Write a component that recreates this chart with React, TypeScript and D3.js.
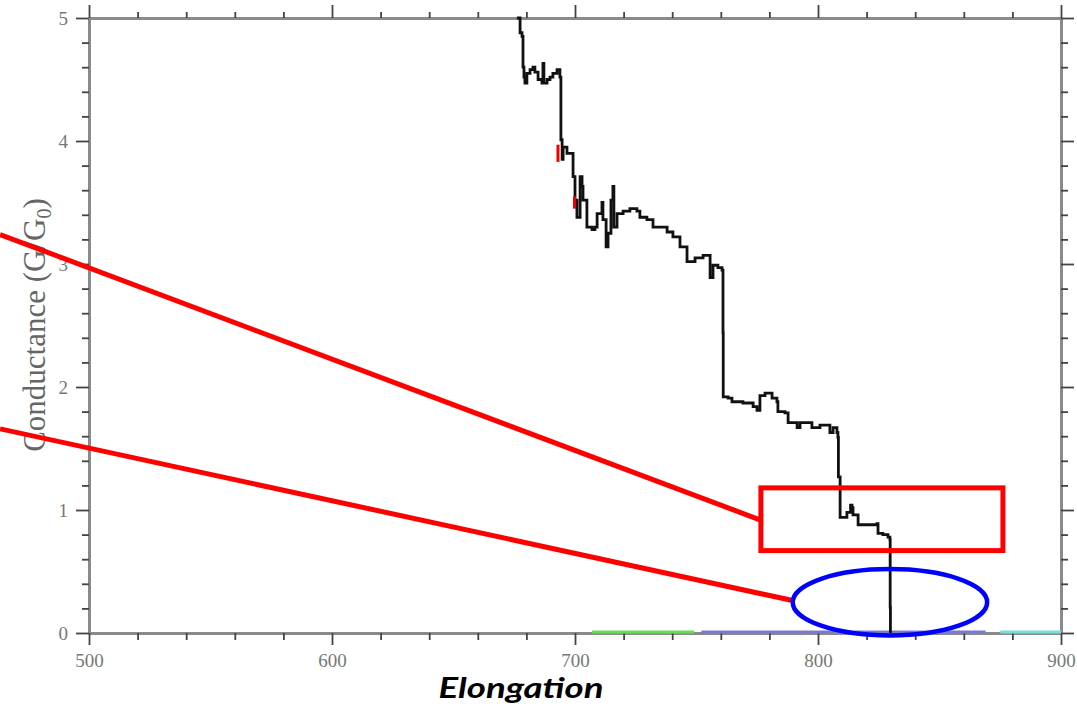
import React, { useEffect, useRef } from "react";
import * as d3 from "d3";

// conductance trace: [elongation, G/G0]
const trace: [number, number][] = [
  [676.1, 5.0], [677.4, 4.88], [678.2, 4.85], [678.6, 4.6], [679.0, 4.52],
  [679.4, 4.47], [680.2, 4.55], [681.5, 4.58], [682.7, 4.6], [683.5, 4.56],
  [684.8, 4.5], [686.4, 4.47], [686.8, 4.63], [687.2, 4.47], [688.5, 4.5],
  [689.7, 4.52], [690.9, 4.55], [692.6, 4.58], [693.8, 4.52], [694.2, 4.01],
  [694.7, 3.85], [695.1, 3.95], [696.7, 3.9], [698.8, 3.9], [699.2, 3.71],
  [700.0, 3.52], [700.8, 3.38], [702.1, 3.71], [702.9, 3.63], [703.3, 3.52],
  [704.9, 3.3], [707.0, 3.28], [708.2, 3.3], [709.1, 3.41], [711.1, 3.5],
  [711.5, 3.36], [712.8, 3.14], [713.6, 3.25], [714.8, 3.52], [715.6, 3.63],
  [716.0, 3.3], [717.3, 3.41], [719.8, 3.43], [722.6, 3.45], [725.5, 3.43],
  [726.7, 3.38], [729.6, 3.36], [732.1, 3.3], [735.0, 3.3], [737.9, 3.26],
  [740.3, 3.22], [743.2, 3.14], [746.1, 3.02], [749.4, 3.05], [752.7, 3.07],
  [755.6, 2.89], [756.8, 2.99], [758.8, 2.97], [760.5, 2.95], [760.9, 2.44],
  [761.0, 1.92], [763.0, 1.91], [764.6, 1.88], [769.1, 1.87], [773.3, 1.84],
  [774.9, 1.81], [776.1, 1.93], [778.2, 1.95], [781.1, 1.91], [783.1, 1.88],
  [783.5, 1.8], [786.4, 1.79], [787.7, 1.71], [791.4, 1.67], [792.6, 1.71],
  [797.5, 1.67], [800.8, 1.69], [804.1, 1.69], [804.9, 1.63], [806.2, 1.67],
  [807.8, 1.63], [808.2, 1.59], [808.4, 1.27], [809.1, 0.94], [811.9, 0.98],
  [813.4, 1.04], [814.0, 1.02], [814.4, 0.96], [816.5, 0.88], [820.2, 0.88],
  [824.3, 0.89], [824.7, 0.81], [826.7, 0.8], [828.8, 0.78], [829.6, 0.76],
  [829.7, 0.21], [829.8, 0.16], [829.8, 0.0],
];

// small red bits on the trace: [elongation, G from, G to]
const redBits: [number, number, number][] = [
  [693.0, 3.97, 3.83],
  [699.8, 3.55, 3.45],
];

// faint coloured runs lying on G = 0: [from, to, colour]
const baseRuns: [number, number, string][] = [
  [707, 749, "#66dd55"],
  [752, 869, "#7a7acc"],
  [875, 900, "#77dddd"],
];

const xTicks = [500, 600, 700, 800, 900];
const yTicks = [0, 1, 2, 3, 4, 5];

// annotations (data units)
const redLines: [number, number, number, number][] = [
  [463.4, 3.24, 776.1, 0.92],
  [463.4, 1.66, 790.5, 0.26],
];
const redBox = { x0: 776.5, x1: 876.1, y0: 1.18, y1: 0.67 };
const blueEllipse = { cx: 829.6, cy: 0.25, rx: 40, ry: 0.27 };

const W = 1077;
const H = 706;

export default function App() {
  const ref = useRef<SVGSVGElement>(null);

  useEffect(() => {
    const svg = d3.select(ref.current);
    svg.selectAll("*").remove();

    const x = d3.scaleLinear().domain([500, 900]).range([89, 1061]);
    const y = d3.scaleLinear().domain([0, 5]).range([633, 18]);

    const minorX = d3.range(500, 901, 20).filter((v) => v % 100 !== 0);
    const minorY = d3.range(0, 5.01, 0.2).map((v) => +v.toFixed(1)).filter((v) => v % 1 !== 0);

    const styleAxis = (g: any) => {
      g.select(".domain").attr("stroke", "#8a8a8a").attr("stroke-width", 3);
      g.selectAll(".tick line").attr("stroke", "#444").attr("stroke-width", 1.8);
      g.selectAll(".tick text")
        .attr("fill", "#777")
        .style("font-family", "'Liberation Serif', serif")
        .style("font-size", "19px");
    };

    // minor ticks first
    svg.append("g").attr("transform", `translate(0,${y(0)})`)
      .call(d3.axisBottom(x).tickValues(minorX).tickSize(7).tickSizeOuter(0).tickFormat(() => ""))
      .call(styleAxis);
    svg.append("g").attr("transform", `translate(0,${y(5)})`)
      .call(d3.axisTop(x).tickValues(minorX).tickSize(6).tickSizeOuter(0).tickFormat(() => ""))
      .call(styleAxis);
    svg.append("g").attr("transform", `translate(${x(500)},0)`)
      .call(d3.axisLeft(y).tickValues(minorY).tickSize(7).tickSizeOuter(0).tickFormat(() => ""))
      .call(styleAxis);
    svg.append("g").attr("transform", `translate(${x(900)},0)`)
      .call(d3.axisRight(y).tickValues(minorY).tickSize(7).tickSizeOuter(0).tickFormat(() => ""))
      .call(styleAxis);

    // major ticks
    const bottom = svg.append("g").attr("transform", `translate(0,${y(0)})`)
      .call(d3.axisBottom(x).tickValues(xTicks).tickSize(12).tickSizeOuter(0).tickPadding(9).tickFormat(d3.format("d")))
      .call(styleAxis);
    bottom.select(".domain").remove();
    const top = svg.append("g").attr("transform", `translate(0,${y(5)})`)
      .call(d3.axisTop(x).tickValues(xTicks).tickSize(13).tickSizeOuter(0).tickFormat(() => ""))
      .call(styleAxis);
    top.select(".domain").remove();
    const left = svg.append("g").attr("transform", `translate(${x(500)},0)`)
      .call(d3.axisLeft(y).tickValues(yTicks).tickSize(13).tickSizeOuter(0).tickPadding(8).tickFormat(d3.format("d")))
      .call(styleAxis);
    left.select(".domain").remove();
    const right = svg.append("g").attr("transform", `translate(${x(900)},0)`)
      .call(d3.axisRight(y).tickValues(yTicks).tickSize(13).tickSizeOuter(0).tickFormat(() => ""))
      .call(styleAxis);
    right.select(".domain").remove();

    // baseline runs
    svg.append("g").selectAll("line").data(baseRuns).enter().append("line")
      .attr("x1", (d) => x(d[0])).attr("x2", (d) => x(d[1]))
      .attr("y1", y(0) - 1).attr("y2", y(0) - 1)
      .attr("stroke", (d) => d[2]).attr("stroke-width", 3);

    // trace
    const line = d3.line<[number, number]>()
      .x((d) => x(d[0]))
      .y((d) => y(d[1]))
      .curve(d3.curveStepAfter);
    svg.append("path").datum(trace)
      .attr("d", line)
      .attr("fill", "none")
      .attr("stroke", "#111")
      .attr("stroke-width", 2.8);

    svg.append("g").selectAll("line").data(redBits).enter().append("line")
      .attr("x1", (d) => x(d[0])).attr("x2", (d) => x(d[0]))
      .attr("y1", (d) => y(d[1])).attr("y2", (d) => y(d[2]))
      .attr("stroke", "#e00").attr("stroke-width", 3);

    // axis titles
    const yt = svg.append("text")
      .attr("transform", `translate(45,${325}) rotate(-90)`)
      .attr("text-anchor", "middle")
      .attr("fill", "#666")
      .style("font-family", "'Liberation Serif', serif")
      .style("font-size", "31px");
    yt.append("tspan").text("Conductance (G/G");
    yt.append("tspan").attr("dy", 6).style("font-size", "20px").text("0");
    yt.append("tspan").attr("dy", -6).text(")");

    svg.append("text")
      .attr("x", 521).attr("y", 698)
      .attr("text-anchor", "middle")
      .attr("textLength", 165)
      .attr("lengthAdjust", "spacingAndGlyphs")
      .attr("fill", "#000")
      .style("font-family", "Lato, 'Open Sans', sans-serif")
      .style("font-weight", "bold")
      .style("font-style", "italic")
      .style("font-size", "29px")
      .text("Elongation");

    // annotations
    svg.append("g").selectAll("line").data(redLines).enter().append("line")
      .attr("x1", (d) => x(d[0])).attr("y1", (d) => y(d[1]))
      .attr("x2", (d) => x(d[2])).attr("y2", (d) => y(d[3]))
      .attr("stroke", "#ff0000").attr("stroke-width", 5);

    svg.append("rect")
      .attr("x", x(redBox.x0)).attr("y", y(redBox.y0))
      .attr("width", x(redBox.x1) - x(redBox.x0))
      .attr("height", y(redBox.y1) - y(redBox.y0))
      .attr("fill", "none").attr("stroke", "#ff0000").attr("stroke-width", 5);

    svg.append("ellipse")
      .attr("cx", x(blueEllipse.cx)).attr("cy", y(blueEllipse.cy))
      .attr("rx", x(blueEllipse.cx + blueEllipse.rx) - x(blueEllipse.cx))
      .attr("ry", y(0) - y(blueEllipse.ry))
      .attr("fill", "none").attr("stroke", "#0000ff").attr("stroke-width", 4.5);
  }, []);

  return (
    <svg
      ref={ref}
      width={W}
      height={H}
      style={{ position: "absolute", left: 0, top: 0, background: "#fff" }}
    />
  );
}
